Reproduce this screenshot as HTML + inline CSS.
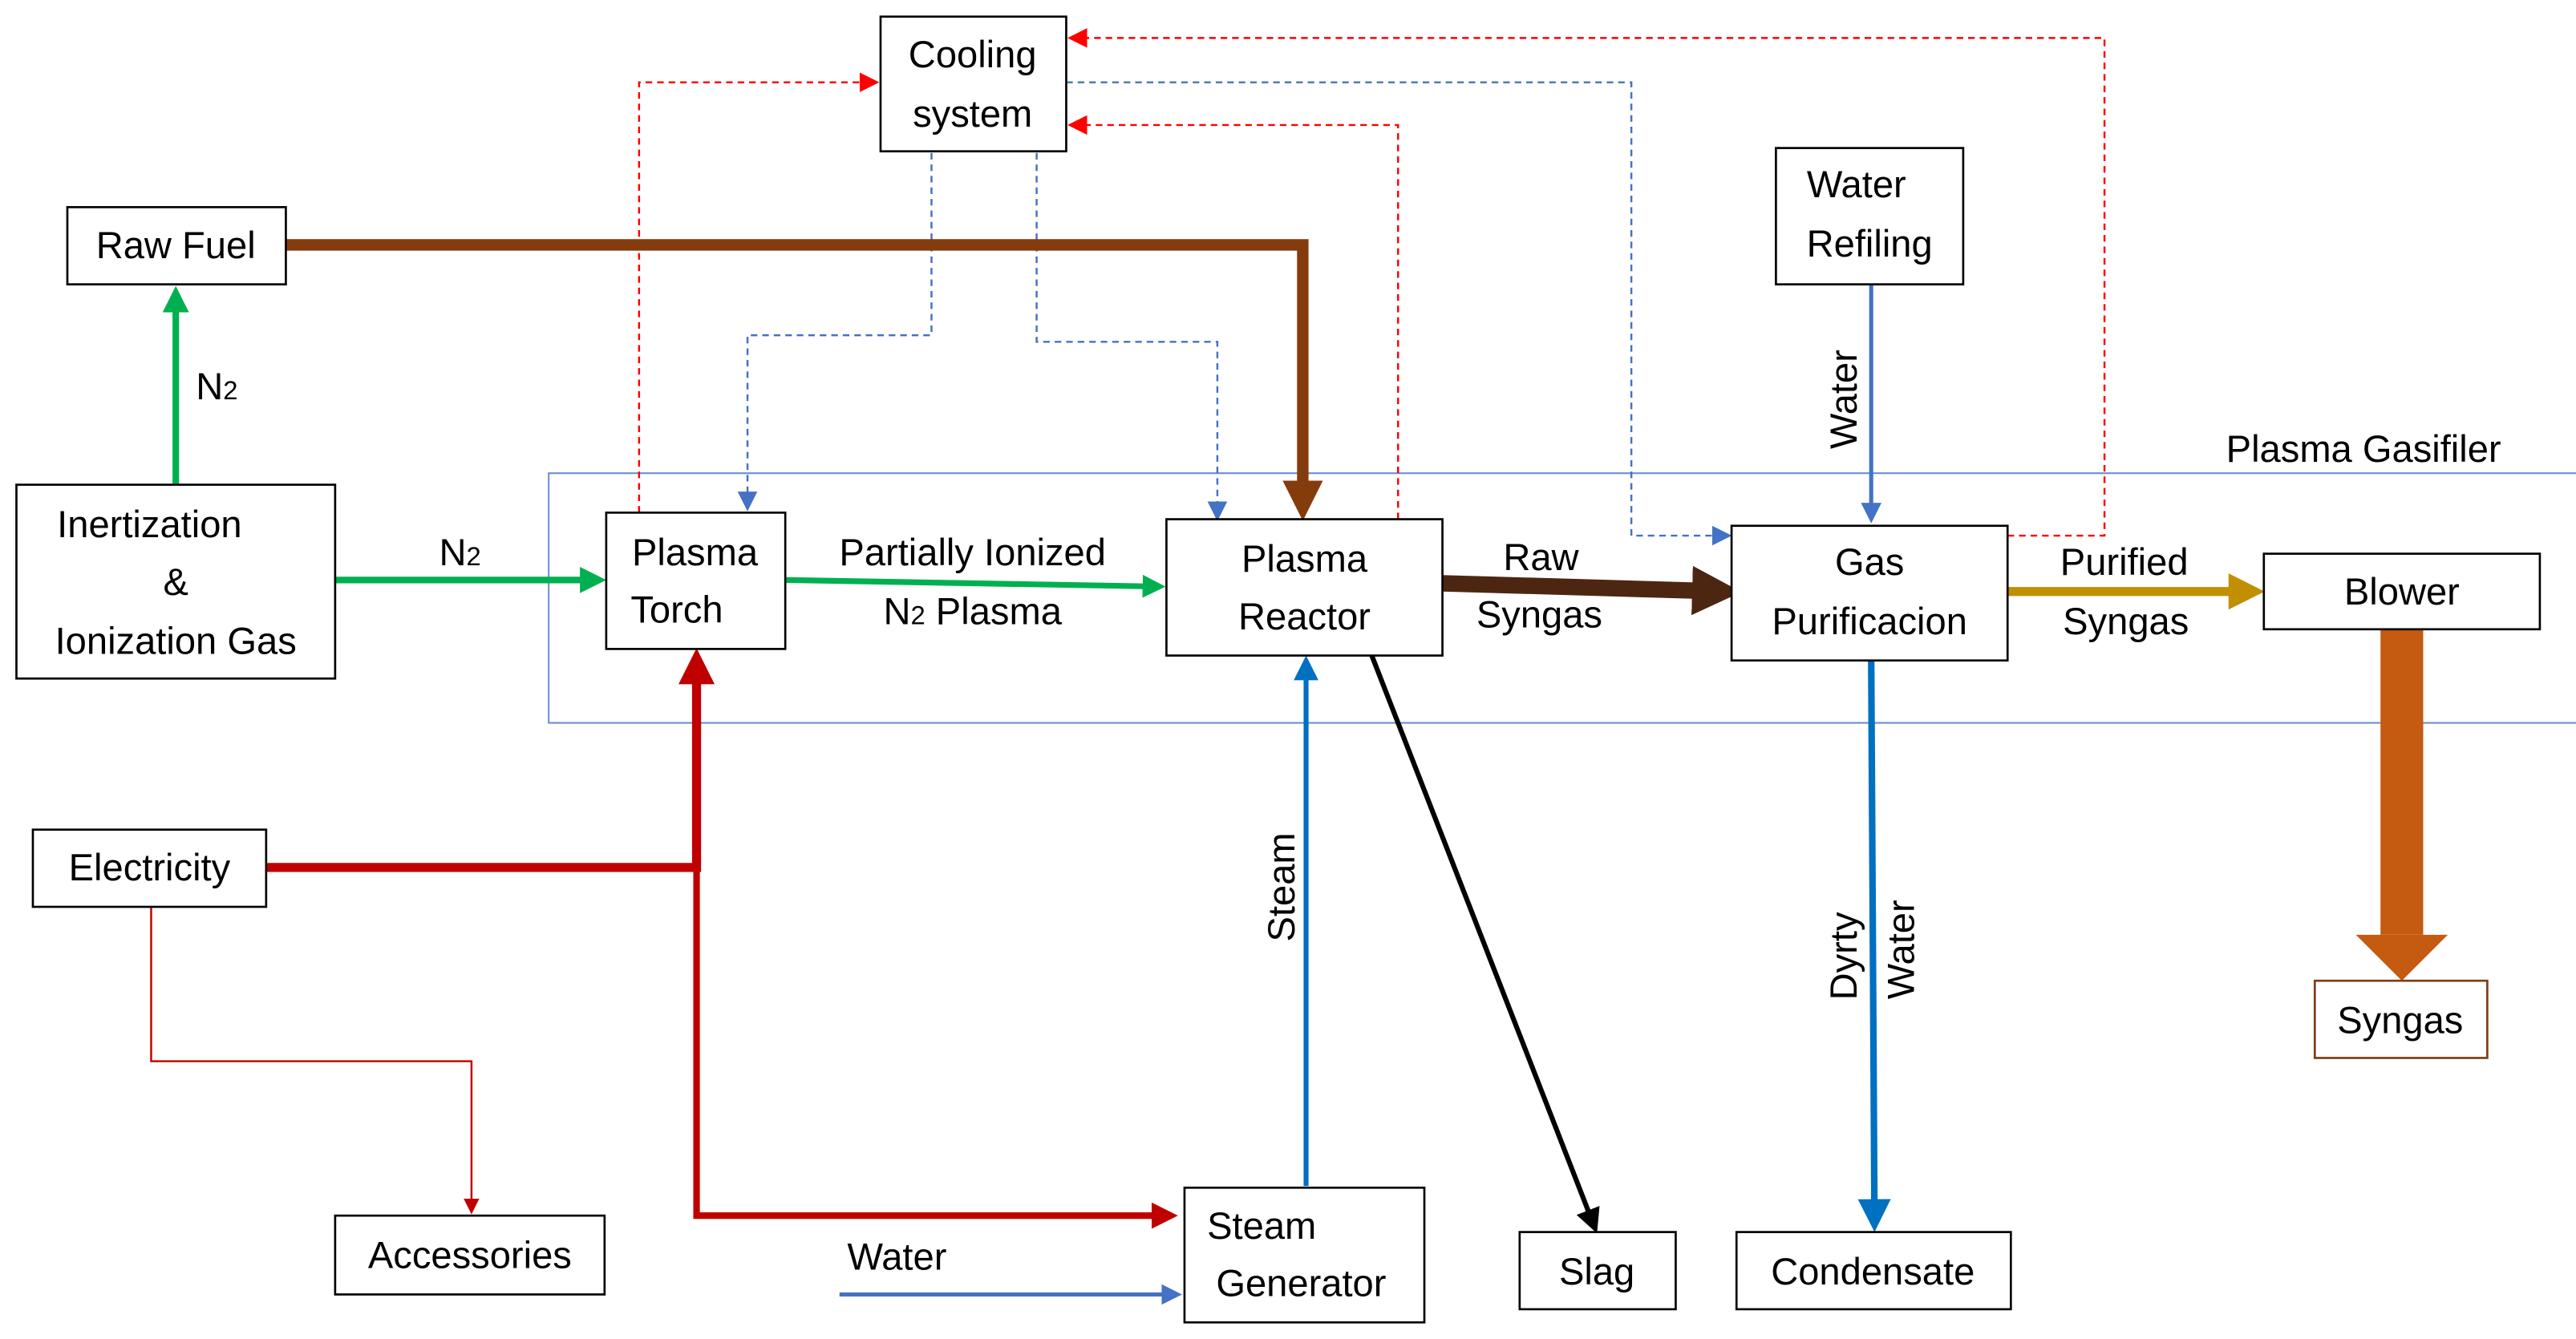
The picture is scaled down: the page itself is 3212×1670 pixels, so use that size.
<!DOCTYPE html>
<html><head><meta charset="utf-8"><style>
html,body{margin:0;padding:0;background:#fff;}
svg{display:block;}
text{font-family:"Liberation Sans",sans-serif;font-size:23px;fill:#000;}
</style></head><body>
<svg width="3212" height="1670" viewBox="0 0 1568 815" xmlns="http://www.w3.org/2000/svg">
<defs>
<marker id="g" markerWidth="4" markerHeight="4" refX="3" refY="2" orient="auto" markerUnits="strokeWidth"><path d="M0,0L4,2L0,4z" fill="#00b050"/></marker>
<marker id="r" markerWidth="4" markerHeight="4" refX="3" refY="2" orient="auto" markerUnits="strokeWidth"><path d="M0,0L4,2L0,4z" fill="#c00000"/></marker>
<marker id="br" markerWidth="3.5" markerHeight="3.5" refX="2.5" refY="1.75" orient="auto" markerUnits="strokeWidth"><path d="M0,0L3.5,1.75L0,3.5z" fill="#843c0c"/></marker>
<marker id="dbr" markerWidth="3" markerHeight="3" refX="2" refY="1.5" orient="auto" markerUnits="strokeWidth"><path d="M0,0L3,1.5L0,3z" fill="#4d2612"/></marker>
<marker id="gd" markerWidth="4" markerHeight="4" refX="3" refY="2" orient="auto" markerUnits="strokeWidth"><path d="M0,0L4,2L0,4z" fill="#c09000"/></marker>
<marker id="b" markerWidth="5" markerHeight="5" refX="4" refY="2.5" orient="auto" markerUnits="strokeWidth"><path d="M0,0L5,2.5L0,5z" fill="#0070c0"/></marker>
<marker id="lb" markerWidth="5" markerHeight="5" refX="4" refY="2.5" orient="auto" markerUnits="strokeWidth"><path d="M0,0L5,2.5L0,5z" fill="#4472c4"/></marker>
<marker id="k" markerWidth="5" markerHeight="5" refX="4" refY="2.5" orient="auto" markerUnits="strokeWidth"><path d="M0,0L5,2.5L0,5z" fill="#000"/></marker>
<marker id="rt" markerWidth="8" markerHeight="8" refX="7" refY="4" orient="auto" markerUnits="strokeWidth"><path d="M0,0L8,4L0,8z" fill="#c00000"/></marker>
<marker id="rd" markerWidth="10" markerHeight="10" refX="9" refY="5" orient="auto" markerUnits="strokeWidth"><path d="M0,0L10,5L0,10z" fill="#ff0000"/></marker>
<marker id="bd" markerWidth="10" markerHeight="10" refX="9" refY="5" orient="auto" markerUnits="strokeWidth"><path d="M0,0L10,5L0,10z" fill="#4472c4"/></marker>
</defs>
<!-- gasifier region -->
<path d="M1568,288 H334 V440 H1568" fill="none" stroke="#6d8fd0" stroke-width="1"/>
<text x="1355" y="281">Plasma Gasifiler</text>
<!-- dashed -->
<g fill="none" stroke-width="1.2" stroke-dasharray="4,3">
<path d="M389,312 V50 H534" stroke="#ff0000" marker-end="url(#rd)"/>
<path d="M851,316 V76 H651" stroke="#ff0000" marker-end="url(#rd)"/>
<path d="M1222,326 H1281 V23 H651" stroke="#ff0000" marker-end="url(#rd)"/>
<path d="M567,93 V204 H455 V310" stroke="#4472c4" marker-end="url(#bd)"/>
<path d="M631,93 V208 H741 V316" stroke="#4472c4" marker-end="url(#bd)"/>
<path d="M649,50 H993 V326 H1053" stroke="#4472c4" marker-end="url(#bd)"/>
</g>
<!-- solid connectors -->
<g fill="none">
<path d="M107,295 V178" stroke="#00b050" stroke-width="4" marker-end="url(#g)"/>
<path d="M204,353 H365" stroke="#00b050" stroke-width="4" marker-end="url(#g)"/>
<path d="M478,353 L706,357" stroke="#00b050" stroke-width="3.5" marker-end="url(#g)"/>
<path d="M174,149 H793 V310" stroke="#843c0c" stroke-width="7" marker-end="url(#br)"/>
<path d="M878,355 L1050,360" stroke="#4d2612" stroke-width="10" marker-end="url(#dbr)"/>
<path d="M1222,360 H1373" stroke="#c09000" stroke-width="5.5" marker-end="url(#gd)"/>
<path d="M162,528 H424 V400" stroke="#c00000" stroke-width="5.5" marker-end="url(#r)"/>
<path d="M424,528 V740 H713" stroke="#c00000" stroke-width="4" marker-end="url(#r)"/>
<path d="M92,552 V646 H287 V738" stroke="#c00000" stroke-width="1.2" marker-end="url(#rt)"/>
<path d="M511,788 H717" stroke="#4472c4" stroke-width="2.5" marker-end="url(#lb)"/>
<path d="M795,722 V402" stroke="#0070c0" stroke-width="3" marker-end="url(#b)"/>
<path d="M835,399 L971,748" stroke="#000" stroke-width="3" marker-end="url(#k)"/>
<path d="M1139,173 V316" stroke="#4472c4" stroke-width="2.5" marker-end="url(#lb)"/>
<path d="M1139,402 L1141,746" stroke="#0070c0" stroke-width="4" marker-end="url(#b)"/>
</g>
<!-- big orange arrow -->
<rect x="1449" y="383" width="26" height="186" fill="#c55a11"/>
<path d="M1434,569 H1490 L1462,597 z" fill="#c55a11"/>
<!-- boxes -->
<g fill="#fff" stroke="#000" stroke-width="1.3">
<rect x="536" y="10" width="113" height="82"/>
<rect x="41" y="126" width="133" height="47"/>
<rect x="10" y="295" width="194" height="118"/>
<rect x="369" y="312" width="109" height="83"/>
<rect x="710" y="316" width="168" height="83"/>
<rect x="1081" y="90" width="114" height="83"/>
<rect x="1054" y="320" width="168" height="82"/>
<rect x="1378" y="337" width="168" height="46"/>
<rect x="20" y="505" width="142" height="47"/>
<rect x="204" y="740" width="164" height="48"/>
<rect x="721" y="723" width="146" height="82"/>
<rect x="925" y="750" width="95" height="47"/>
<rect x="1057" y="750" width="167" height="47"/>
<rect x="1409" y="597" width="105" height="47" stroke="#7a3e14"/>
</g>
<!-- labels -->
<g text-anchor="middle">
<text x="592" y="41">Cooling</text><text x="592" y="77">system</text>
<text x="107" y="157">Raw Fuel</text>
<text x="91" y="327">Inertization</text><text x="107" y="362">&amp;</text><text x="107" y="398">Ionization Gas</text>
<text x="423" y="344">Plasma</text><text x="412" y="379">Torch</text>
<text x="794" y="348">Plasma</text><text x="794" y="383">Reactor</text>
<text x="1130" y="120">Water</text><text x="1138" y="156">Refiling</text>
<text x="1138" y="350">Gas</text><text x="1138" y="386">Purificacion</text>
<text x="1462" y="368">Blower</text>
<text x="91" y="536">Electricity</text>
<text x="286" y="772">Accessories</text>
<text x="768" y="754">Steam</text><text x="792" y="789">Generator</text>
<text x="972" y="782">Slag</text>
<text x="1140" y="782">Condensate</text>
<text x="1461" y="629">Syngas</text>
<text x="132" y="243">N<tspan font-size="16">2</tspan></text>
<text x="280" y="344">N<tspan font-size="16">2</tspan></text>
<text x="592" y="344">Partially Ionized</text>
<text x="592" y="380">N<tspan font-size="16">2</tspan> Plasma</text>
<text x="938" y="347">Raw</text><text x="937" y="382">Syngas</text>
<text x="1293" y="350">Purified</text><text x="1294" y="386">Syngas</text>
<text x="546" y="773">Water</text>
<text transform="translate(788,540) rotate(-90)">Steam</text>
<text transform="translate(1130,243) rotate(-90)">Water</text>
<text transform="translate(1130,582) rotate(-90)">Dyrty</text>
<text transform="translate(1165,578) rotate(-90)">Water</text>
</g>
</svg>
</body></html>
